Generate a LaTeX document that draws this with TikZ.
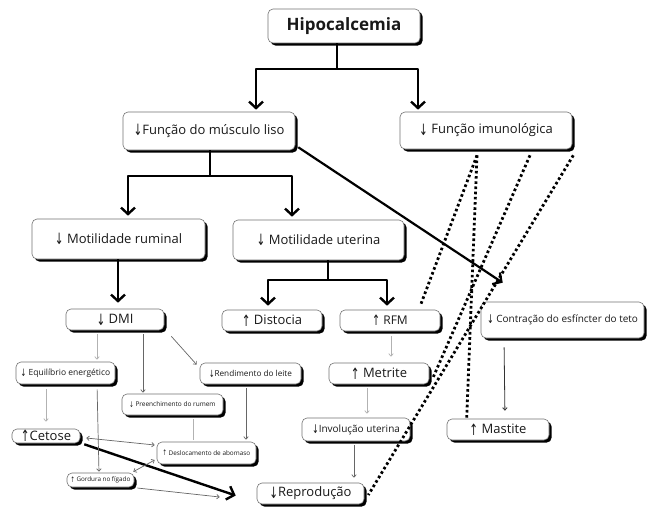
\documentclass[tikz,border=0pt]{standalone}
\usepackage{fontspec}
\usepackage{graphicx}
\setmainfont{Open Sans}
\newfontfamily\arrfont{DejaVu Sans}
\usetikzlibrary{arrows.meta,shadows,calc}
\newcommand\mydn{{\arrfont\raisebox{-0.12em}{\scalebox{0.8}[1.2]{↓}}}}
\newcommand\myup{{\arrfont\raisebox{-0.12em}{\scalebox{0.8}[1.2]{↑}}}}
\begin{document}
\begin{tikzpicture}[x=1pt,y=-1pt,
  box/.style={draw=black!55, line width=0.6pt, fill=white, rounded corners=5pt, inner sep=0pt,
     text=black!90, drop shadow={shadow xshift=2.6pt, shadow yshift=-2.6pt, fill=black, opacity=1}},
  sz/.style 2 args={minimum width=#1pt, minimum height=#2pt},
  fs/.style={font=\fontsize{#1}{#1}\selectfont},
  fork/.style={line width=2.4pt, draw=black, line join=round},
  bigtip/.style={-{Straight Barb[length=6.5pt,width=14pt]}},
  thinl/.style={line width=0.7pt, draw=black!60},
  lightl/.style={line width=0.7pt, draw=black!30},
  tip/.style={-{Straight Barb[length=2.5pt,width=4.5pt]}},
  dtip/.style={{Straight Barb[length=2.5pt,width=4.5pt]}-{Straight Barb[length=2.5pt,width=4.5pt]}},
  dots/.style={line width=2.8pt, dash pattern=on 2.6pt off 2.6pt, draw=black},
]
\fill[white] (0,0) rectangle (660,508);
\useasboundingbox (0,0) rectangle (660,508);

% nodes
\node[box,sz={152}{34},font=\fontsize{17}{17}\selectfont\bfseries] (hip) at (344,26) {Hipocalcemia};
\node[box,sz={172}{38},fs=13] (mus) at (209,131) {\mydn Função do músculo liso};
\node[box,sz={172}{37},fs=13] (imu) at (486,130.5) {\mydn\ Função imunológica};
\node[box,sz={173}{40},fs=13] (rum) at (118.5,239) {\mydn\ Motilidade ruminal};
\node[box,sz={171}{40},fs=13] (ute) at (318.5,240) {\mydn\ Motilidade uterina};
\node[box,sz={98}{21},fs=13] (dmi) at (115,319.5) {\mydn\ DMI};
\node[box,sz={100}{21},fs=13] (dis) at (272,320.5) {\myup\ Distocia};
\node[box,sz={100}{21},fs=12] (rfm) at (390,320.5) {\myup\ RFM};
\node[box,sz={163}{36},fs=10] (con) at (562.5,320) {\mydn\ Contração do esfíncter do teto};
\node[box,sz={99}{22},fs=8.5] (equ) at (65.5,373) {\mydn\ Equilíbrio energético};
\node[box,sz={101}{21},fs=8.2] (ren) at (250.5,373.5) {\mydn Rendimento do leite};
\node[box,sz={100}{21},fs=13] (met) at (379,373.5) {\myup\ Metrite};
\node[box,sz={101}{21},fs=6.5] (pre) at (172.5,404.5) {\mydn\ Preenchimento do rumem};
\node[box,sz={68}{14},fs=13] (cet) at (46,436) {\myup Cetose};
\node[box,sz={99}{22},fs=6.4] (des) at (206.5,453) {\myup\ Deslocamento de abomaso};
\node[box,sz={108}{23},fs=10] (inv) at (356,429.5) {\mydn Involução uterina};
\node[box,sz={102}{21},fs=13] (mas) at (498,429.5) {\myup\ Mastite};
\node[box,sz={67}{14},fs=6.3] (gor) at (100.5,480) {\myup\ Gordura no fígado};
\node[box,sz={107}{21},fs=13] (rep) at (310.5,493.5) {\mydn Reprodução};

% forks
\coordinate (f1) at (337,69);
\draw[fork] (337,0 |- hip.south) -- (f1);
\draw[fork,bigtip,shorten >=2pt] (f1) -| (256,0 |- mus.north);
\draw[fork,bigtip,shorten >=2pt] (f1) -| (418,0 |- imu.north);
\coordinate (f2) at (210,176);
\draw[fork] (210,0 |- mus.south) -- (f2);
\draw[fork,bigtip,shorten >=3pt] (f2) -| (128,0 |- rum.north);
\draw[fork,bigtip,shorten >=3pt] (f2) -| (292,0 |- ute.north);
\coordinate (f3) at (328,280);
\draw[fork] (328,0 |- ute.south) -- (f3);
\draw[fork,bigtip,shorten >=4pt] (f3) -| (268,0 |- dis.north);
\draw[fork,bigtip,shorten >=4pt] (f3) -| (387,0 |- rfm.north);
\draw[fork,bigtip,shorten >=6pt] (118,0 |- rum.south) -- (118,0 |- dmi.north);

% long thick arrows
\draw[line width=2.2pt,bigtip] ($(mus.south east)+(3,-3)$) -- ($(con.north west)+(22,-19)$);
\draw[line width=2.4pt,bigtip] ($(cet.south east)+(4,1)$) -- ($(rep.west)+(-21,2)$);

% thin connectors
\draw[lightl,tip,shorten <=4pt,shorten >=2pt] (97,0 |- dmi.south) -- (97,0 |- equ.north);
\draw[thinl,tip,shorten <=4pt,shorten >=1pt] (143,0 |- dmi.south) -- (143,0 |- pre.north);
\draw[thinl,tip] ($(dmi.south east)+(7,6)$) -- ($(ren.north west)+(-3,2)$);
\draw[lightl,tip,shorten <=5pt,shorten >=7pt] (46,0 |- equ.south) -- (46,0 |- cet.north);
\draw[thinl,tip,shorten <=5pt,shorten >=1pt] (97,0 |- equ.south) -- (99,0 |- gor.north);
\draw[lightl,shorten <=4pt,shorten >=2pt] (193,0 |- pre.south) -- (193,0 |- des.north);
\draw[thinl,tip,shorten <=4pt,shorten >=2pt] (246,0 |- ren.south) -- (246,0 |- des.north);
\draw[thinl,dtip] ($(cet.east)+(6,2)$) -- ($(des.west)+(-2,-8)$);
\draw[thinl,dtip] ($(gor.north east)+(-1,-1)$) -- ($(des.west)+(-2,7)$);
\draw[thinl,tip] ($(gor.east)+(3,8)$) -- ($(rep.west)+(-37,3.5)$);
\draw[lightl,tip,shorten <=5pt,shorten >=6pt] (391,0 |- rfm.south) -- (391,0 |- met.north);
\draw[lightl,tip,shorten <=4pt,shorten >=4pt] (367,0 |- met.south) -- (367,0 |- inv.north);
\draw[thinl,tip,shorten <=4pt,shorten >=5pt] (354,0 |- inv.south) -- (354,0 |- rep.north);
\draw[draw=black!80,line width=0.8pt,tip,shorten <=9pt,shorten >=8pt] (504,0 |- con.south) -- (505,0 |- mas.north);

% dotted lines
\draw[dots] ($(imu.south)+(-9,6)$) -- ($(rfm.north east)+(-20,-4)$);
\draw[dots] ($(imu.south)+(-9,6)$) -- ($(mas.north west)+(20,-1)$);
\draw[dots] ($(imu.south)+(44,6)$) -- ($(met.east)+(4,3.5)$);
\draw[dots] ($(imu.south east)+(1,6)$) -- ($(rep.east)+(4,1.5)$);
\end{tikzpicture}
\end{document}
